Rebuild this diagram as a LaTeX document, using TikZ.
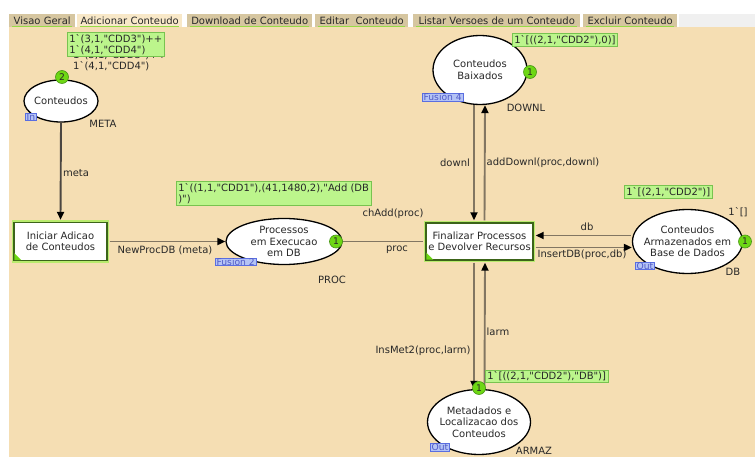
\documentclass[tikz,border=0pt]{standalone}
\usepackage{fontspec}
\setmainfont{DejaVu Sans}
\newfontfamily\dvraw{DejaVu Sans}
\usetikzlibrary{shapes.geometric,arrows.meta}
\definecolor{canvas}{RGB}{245,222,179}
\definecolor{tabin}{RGB}{214,198,160}
\definecolor{tabact}{RGB}{248,232,200}
\definecolor{tabline}{RGB}{150,220,70}
\definecolor{txt}{RGB}{40,40,40}
\definecolor{arccol}{RGB}{130,118,98}
\definecolor{arcdark}{RGB}{75,70,65}
\definecolor{mkfill}{RGB}{188,245,140}
\definecolor{mkdraw}{RGB}{120,195,80}
\definecolor{tokfill}{RGB}{110,215,20}
\definecolor{tokdraw}{RGB}{70,150,20}
\definecolor{tagfill}{RGB}{180,195,245}
\definecolor{tagdraw}{RGB}{90,110,225}
\definecolor{tagtext}{RGB}{80,90,200}
\definecolor{trdark}{RGB}{60,100,25}
\definecolor{trglow}{RGB}{185,235,110}
\newcommand\bq{\char"0060\relax}
\newcommand\myfs{\dvraw\fontsize{10}{11.5}\selectfont}
\newcommand\mysmall{\dvraw\fontsize{9.2}{10}\selectfont}
\tikzset{
  place/.style={ellipse, draw=black, line width=1.3pt, fill=white, inner sep=0pt},
  ptext/.style={align=center, font=\myfs, text=txt},
  trans/.style={rectangle, draw=trdark, line width=1.4pt, fill=white, align=center,
    inner sep=0pt, preaction={draw=trglow, line width=4.5pt}},
  tok/.style={circle, fill=tokfill, draw=tokdraw, line width=0.6pt, minimum size=13pt,
    inner sep=0pt, font=\mysmall},
  tagbox/.style={fill=tagfill, draw=tagdraw, line width=0.8pt, text=tagtext,
    inner xsep=1.2pt, inner ysep=0.3pt, anchor=north west, font=\mysmall},
  markbox/.style={fill=mkfill, draw=mkdraw, line width=0.6pt, align=left,
    inner xsep=2pt, inner ysep=1.8pt, anchor=north west},
  lbl/.style={text=txt},
  arcl/.style={draw=arccol, line width=1.9pt},
  arcarr/.style={arcl, -{Triangle[length=8pt,width=7pt,color=black]}},
  tabnode/.style={fill=tabin, minimum height=13pt, anchor=north west, inner sep=0pt},
  tabul/.style={draw=tabline, line width=1pt}
}
\begin{document}
\begin{tikzpicture}[x=1pt,y=-1pt, every node/.style={font=\myfs, text=txt}]
\useasboundingbox (0,0) rectangle (755,457);
\fill[white] (0,0) rectangle (755,457);
\fill[canvas] (9,27) rectangle (755,457);
% tabs
\node[tabnode, minimum width=66pt] (t1) at (9,14) {Visao Geral};
\node[tabnode, minimum width=105pt, fill=tabact] (t2) at (77,14) {Adicionar Conteudo};
\node[tabnode, minimum width=125pt] (t3) at (187,14) {Download de Conteudo};
\node[tabnode, minimum width=93pt] (t4) at (315,14) {Editar\ \ Conteudo};
\node[tabnode, minimum width=167pt] (t5) at (413,14) {Listar Versoes de um Conteudo};
\node[tabnode, minimum width=94pt] (t6) at (583,14) {Excluir Conteudo};
\fill[white!94!black] (679,14) rectangle (755,27);
\foreach \t in {t1,t2,t3,t4,t5,t6}{
  \draw[tabul] ([shift={(3,-1)}]\t.south west) -- ([shift={(-3,-1)}]\t.south east);
}
% initial marking (behind)
\node[anchor=north west, align=left, inner sep=0pt] (init1) at (73,50) {1\bq(3,1,"CDD3")++\\1\bq(4,1,"CDD4")};
% places
\node[place, minimum width=74pt, minimum height=42pt, label={[ptext]center:Conteudos}] (conteudos) at (61,101) {};
\node[place, minimum width=94pt, minimum height=69pt, label={[ptext]center:Conteudos\\Baixados}] (baixados) at (480,70) {};
\node[place, minimum width=116pt, minimum height=46pt, label={[ptext]center:Processos\\em Execucao\\em DB}] (proc) at (284,241.5) {};
\node[place, minimum width=110pt, minimum height=64pt, label={[ptext]center:Conteudos\\Armazenados em\\Base de Dados}] (armaz) at (687.5,241.5) {};
\node[place, minimum width=103pt, minimum height=65pt, label={[ptext]center:Metadados e\\Localizacao dos\\Conteudos}] (meta) at (479,422) {};
% transitions
\node[trans, minimum width=93pt, minimum height=38pt] (iniciar) at (60.5,241.5) {Iniciar Adicao\\de Conteudos};
\node[trans, minimum width=107pt, minimum height=37pt] (final) at (479.5,241.5) {Finalizar Processos\\e Devolver Recursos};
\fill[tokfill] ([shift={(1,-1)}]iniciar.south west) -- ++(7,0) -- ++(-7,-7) -- cycle;
\fill[tokfill] ([shift={(1,-1)}]final.south west) -- ++(7,0) -- ++(-7,-7) -- cycle;
% arcs
\draw[arcl, draw=arcdark, -{Triangle[length=8pt,width=7pt,color=black]}] (conteudos.south) -- ([yshift=2]iniciar.north);
\draw[arcarr] ([xshift=2]iniciar.east) -- (proc.west);
\draw[arcl] (proc.east) -- ([xshift=-2]final.west);
\draw[arcarr] ([shift={(-1,-6)}]armaz.west) -- ([shift={(2,-6)}]final.east);
\draw[arcarr] ([shift={(2,6)}]final.east) -- ([shift={(0,6)}]armaz.west);
\draw[arcarr] ([xshift=-6]baixados.south) -- ([shift={(-5.5,-2)}]final.north);
\draw[arcarr] ([shift={(5,-2)}]final.north) -- ([xshift=5]baixados.south);
\draw[arcarr] ([shift={(-5.5,2)}]final.south) -- ([xshift=-5]meta.north);
\draw[arcarr] ([xshift=5.5]meta.north) -- ([shift={(5.5,2)}]final.south);
% arc labels
\node[lbl] (lmeta) at (76,173) {meta};
\node[lbl] (lnew) at (165,250) {NewProcDB (meta)};
\node[lbl] (lchadd) at (393,214) {chAdd(proc)};
\node[lbl] (lproc) at (397,250) {proc};
\node[lbl] (ldownl) at (455,163) {downl};
\node[lbl] (ladd) at (543,163) {addDownl(proc,downl)};
\node[lbl] (ldb) at (587,227) {db};
\node[lbl] (lins) at (582,255) {InsertDB(proc,db)};
\node[lbl] (llarm) at (498,332) {larm};
\node[lbl] (linsmet) at (423,351) {InsMet2(proc,larm)};
% place annotations
\node[lbl] (nmeta) at (103,124) {META};
\node[lbl] (ndownl) at (526,108) {DOWNL};
\node[lbl] (nproc) at (332,280) {PROC};
\node[lbl] (ndb) at (733,272) {DB};
\node[lbl] (narmaz) at (534,451) {ARMAZ};
\node[lbl] (idb) at (738,212) {1\bq[]};
% tags
\node[tagbox] (tagin) at (25,113) {In};
\node[tagbox] (tagf4) at (422,93) {Fusion 4};
\node[tagbox] (tagf2) at (215,257.5) {Fusion 2};
\node[tagbox] (tagout1) at (635,261.5) {Out};
\node[tagbox] (tagout2) at (430,443) {Out};
% tokens
\node[tok] (tk1) at (62,77) {2};
\node[tok] (tk2) at (530,72) {1};
\node[tok] (tk3) at (336,241.5) {1};
\node[tok] (tk4) at (745,241.5) {1};
\node[tok] (tk5) at (479,388) {1};
% markings
\node[markbox] (m1) at (67,32) {1\bq(3,1,"CDD3")++\\1\bq(4,1,"CDD4")};
\node[markbox] (m2) at (176,181) {1\bq((1,1,"CDD1"),(41,1480,2),"Add (DB\\)")};
\node[markbox] (m3) at (512,33) {1\bq[((2,1,"CDD2"),0)]};
\node[markbox] (m4) at (624,185.5) {1\bq[(2,1,"CDD2")]};
\node[markbox] (m5) at (485,369.5) {1\bq[((2,1,"CDD2"),"DB")]};
\end{tikzpicture}
\end{document}
